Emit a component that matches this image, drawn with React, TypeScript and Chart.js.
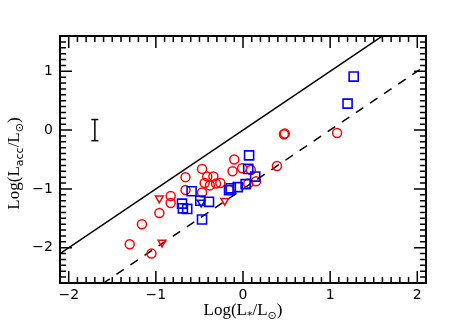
import React, { useEffect, useRef } from "react";
import { Chart, registerables } from "chart.js";

Chart.register(...registerables);

// Red circles: log L*, log Lacc
const redCircleX = [-1.30, -1.05, -1.16, -0.96, -0.83, -0.83, -0.66, -0.66, -0.47, -0.47, -0.44, -0.41, -0.38, -0.34, -0.31, -0.26, -0.10, -0.12, -0.01, 0.06, 0.09, 0.15, 0.39, 0.47, 0.48, 1.08, -0.16];
const redCircleY = [-1.94, -2.10, -1.60, -1.41, -1.12, -1.24, -0.80, -1.02, -0.66, -1.06, -0.90, -0.79, -0.94, -0.79, -0.91, -0.90, -0.50, -0.70, -0.65, -0.91, -0.68, -0.87, -0.61, -0.07, -0.06, -0.05, -1.02];
// Red triangles (upper limits)
const redTriX = [-0.96, -0.93, -0.21];
const redTriY = [-1.16, -1.91, -1.20];
// Blue squares
const blueSqX = [-0.70, -0.69, -0.64, -0.59, -0.49, -0.39, -0.47, -0.16, -0.14, -0.06, 0.03, 0.07, 0.06, 0.14, 1.20, 1.27];
const blueSqY = [-1.25, -1.33, -1.34, -1.04, -1.20, -1.22, -1.52, -1.02, -0.99, -0.97, -0.92, -0.43, -0.66, -0.79, 0.45, 0.91];
// Blue triangle
const blueTriX = [-0.48];
const blueTriY = [-1.23];
// Reference lines
const lineX = [-2.1, 2.1];
const solidY = [-2.1, 2.1];
const dashedY = [-3.1, 1.1];
// Typical error bar
const errX = [-1.7, -1.7];
const errY = [-0.18, 0.18];

const xTicks = [-2, -1, 0, 1, 2];
const yTicks = [-2, -1, 0, 1];

const pts = (xs: number[], ys: number[]) => xs.map((x, i) => ({ x, y: ys[i] }));
const fmt = (v: number) => String(v).replace("-", "\u2212");

const framePlugin = {
  id: "frame",
  afterDraw(chart: any) {
    const { ctx, chartArea: a, scales } = chart;
    const xs = scales.x, ys = scales.y;
    ctx.save();
    ctx.strokeStyle = "#000";
    ctx.lineWidth = 2;
    ctx.strokeRect(a.left, a.top, a.right - a.left, a.bottom - a.top);
    ctx.lineWidth = 1.5;
    ctx.beginPath();
    for (let i = -21; i <= 21; i++) {
      const v = i / 10;
      const px = xs.getPixelForValue(v);
      if (px < a.left + 0.5 || px > a.right - 0.5) continue;
      const len = i % 10 === 0 ? 12 : 6;
      ctx.moveTo(px, a.bottom); ctx.lineTo(px, a.bottom - len);
      ctx.moveTo(px, a.top); ctx.lineTo(px, a.top + len);
    }
    for (let i = -26; i <= 16; i++) {
      const v = i / 10;
      const py = ys.getPixelForValue(v);
      if (py < a.top + 0.5 || py > a.bottom - 0.5) continue;
      const len = i % 10 === 0 ? 12 : 6;
      ctx.moveTo(a.left, py); ctx.lineTo(a.left + len, py);
      ctx.moveTo(a.right, py); ctx.lineTo(a.right - len, py);
    }
    ctx.stroke();

    // axis titles with subscripts
    const big = "17px 'Liberation Serif', serif";
    const small = "11px 'DejaVu Sans', sans-serif";
    const drawParts = (parts: [string, boolean][], cx: number, cy: number, rot: number) => {
      ctx.save();
      ctx.translate(cx, cy);
      ctx.rotate(rot);
      ctx.fillStyle = "#000";
      ctx.textBaseline = "alphabetic";
      ctx.textAlign = "left";
      let w = 0;
      for (const [t, sub] of parts) { ctx.font = sub ? small : big; w += ctx.measureText(t).width; }
      let x = -w / 2;
      for (const [t, sub] of parts) {
        ctx.font = sub ? small : big;
        ctx.fillText(t, x, sub ? 9 : 5);
        x += ctx.measureText(t).width;
      }
      ctx.restore();
    };
    const cx = (a.left + a.right) / 2;
    drawParts([["Log(L", false], ["*", true], ["/L", false], ["\u2299", true], [")", false]], cx, 310, 0);
    drawParts([["Log(L", false], ["acc", true], ["/L", false], ["\u2299", true], [")", false]], 14, (a.top + a.bottom) / 2 + 4, -Math.PI / 2);
    ctx.restore();
  },
};

export default function App() {
  const ref = useRef<HTMLCanvasElement>(null);
  useEffect(() => {
    const tickFont = { family: "'DejaVu Sans', sans-serif", size: 14 };
    const chart = new Chart(ref.current!, {
      type: "scatter",
      data: {
        datasets: [
          { type: "line", data: pts(lineX, solidY), borderColor: "#000", borderWidth: 1.5, pointRadius: 0, order: 6 },
          { type: "line", data: pts(lineX, dashedY), borderColor: "#000", borderWidth: 1.5, borderDash: [9, 8], pointRadius: 0, order: 6 },
          { type: "line", data: pts(errX, errY), borderColor: "#000", borderWidth: 1.5, pointStyle: "line", pointRadius: 3.5, pointBorderColor: "#000", pointBorderWidth: 1.5, order: 6 },
          { data: pts(redCircleX, redCircleY), pointStyle: "circle", pointRadius: 4.5, borderColor: "#ff0000", backgroundColor: "transparent", borderWidth: 1.5, order: 5 },
          { data: pts(redTriX, redTriY), pointStyle: "triangle", rotation: 180, pointRadius: 4.5, borderColor: "#ff0000", backgroundColor: "transparent", borderWidth: 1.5, order: 4 },
          { data: pts(blueSqX, blueSqY), pointStyle: "rect", pointRadius: 6.4, borderColor: "#0000ff", backgroundColor: "transparent", borderWidth: 1.6, order: 3 },
          { data: pts(blueTriX, blueTriY), pointStyle: "triangle", rotation: 180, pointRadius: 4.5, borderColor: "#0000ff", backgroundColor: "transparent", borderWidth: 1.5, order: 2 },
        ],
      } as any,
      options: {
        animation: false,
        responsive: false,
        layout: { padding: { left: 0, top: 36, right: 37, bottom: 0 } },
        plugins: { legend: { display: false }, tooltip: { enabled: false } },
        scales: {
          x: {
            type: "linear", min: -2.1, max: 2.1,
            grid: { display: false, drawTicks: false }, border: { display: false },
            afterBuildTicks: (s: any) => { s.ticks = xTicks.map((v) => ({ value: v })); },
            afterFit: (s: any) => { s.height = 42; },
            ticks: { color: "#000", font: tickFont, padding: 4, maxRotation: 0, callback: (v: any) => fmt(Number(v)) },
          },
          y: {
            type: "linear", min: -2.6, max: 1.6,
            grid: { display: false, drawTicks: false }, border: { display: false },
            afterBuildTicks: (s: any) => { s.ticks = yTicks.map((v) => ({ value: v })); },
            afterFit: (s: any) => { s.width = 60; },
            ticks: { color: "#000", font: tickFont, padding: 7, callback: (v: any) => fmt(Number(v)) },
          },
        },
      } as any,
      plugins: [framePlugin],
    });
    return () => chart.destroy();
  }, []);
  return (
    <div style={{ position: "absolute", left: 0, top: 0, width: 463, height: 325, background: "#fff" }}>
      <canvas ref={ref} width={463} height={325} style={{ display: "block" }} />
    </div>
  );
}
